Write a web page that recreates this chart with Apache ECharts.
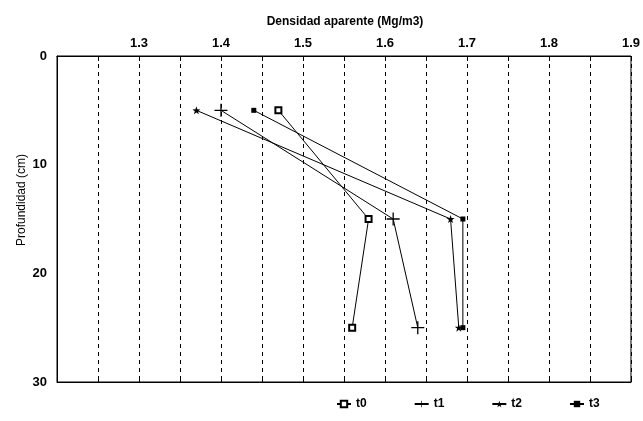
<!DOCTYPE html>
<html><head><meta charset="utf-8">
<script src="https://cdn.jsdelivr.net/npm/echarts@6/dist/echarts.min.js"></script>
<style>html,body{margin:0;padding:0;background:#fff}#c{width:643px;height:421px}</style>
</head><body><div id="c"></div>
<script>
const depths = [5, 15, 25];
const t0 = [1.47, 1.58, 1.56];
const t1 = [1.40, 1.61, 1.64];
const t2 = [1.37, 1.68, 1.69];
const t3 = [1.44, 1.695, 1.695];
const seriesNames = ['t0', 't1', 't2', 't3'];
const yTitle = 'Profundidad (cm)';

const FONT = '"Liberation Sans Narrow","Liberation Sans",Arial,sans-serif';
const plusPath = 'path://M0,4.5h10v1h-10zM4.5,0h1v10h-1z';
const starPath = 'path://M5,0L6.2,3.6L10,3.7L7,6L8.1,9.7L5,7.5L1.9,9.7L3,6L0,3.7L3.8,3.6Z';
const symbols = [
  {symbol: 'emptyRect', size: 6},
  {symbol: plusPath, size: 13},
  {symbol: starPath, size: 8},
  {symbol: 'rect', size: 5}
];
const vals = [t0, t1, t2, t3];

const chart = echarts.init(document.getElementById('c'), null, {renderer: 'canvas'});
chart.setOption({
  animation: false,
  backgroundColor: '#fff',
  title: {
    text: 'Densidad aparente (Mg/m3)', left: 340, top: 11, textAlign: 'center',
    textStyle: {fontFamily: FONT, fontWeight: 'bold', fontSize: 12, color: '#000'}
  },
  graphic: [{
    type: 'text', x: 22, y: 200, rotation: Math.PI / 2,
    style: {text: yTitle, fontFamily: FONT, fontSize: 12, fill: '#000', align: 'center', verticalAlign: 'middle'}
  }],
  grid: {left: 57, top: 56, right: 11, bottom: 39, show: true, borderColor: '#000', borderWidth: 1, backgroundColor: '#fff'},
  legend: {
    bottom: 6, left: 331, itemGap: 47, itemWidth: 14, itemHeight: 8,
    textStyle: {fontFamily: FONT, fontWeight: 'bold', fontSize: 12, color: '#000'},
    data: seriesNames
  },
  xAxis: [{
    type: 'value', position: 'top', min: 1.2, max: 1.9, interval: 0.05,
    axisLine: {show: true, lineStyle: {color: '#000'}},
    axisTick: {show: true, inside: true, length: 5, lineStyle: {color: '#000'}},
    axisLabel: {
      fontFamily: FONT, fontWeight: 'bold', fontSize: 13, color: '#000', margin: 6,
      formatter: function (v) {
        const k = Math.round(v * 100);
        if (k % 10 !== 0 || k === 120) return '';
        return (k / 100).toFixed(1);
      }
    },
    splitLine: {show: true, lineStyle: {color: '#000', type: [4, 4], width: 1}}
  }, {
    type: 'value', position: 'bottom', min: 1.2, max: 1.9, interval: 0.05,
    axisLine: {show: true, lineStyle: {color: '#000'}},
    axisTick: {show: true, inside: true, length: 5, lineStyle: {color: '#000'}},
    axisLabel: {show: false}, splitLine: {show: false}
  }],
  yAxis: {
    type: 'value', inverse: true, min: 0, max: 30, interval: 10,
    axisLine: {show: true, lineStyle: {color: '#000'}},
    axisTick: {show: false},
    axisLabel: {fontFamily: FONT, fontWeight: 'bold', fontSize: 13, color: '#000', margin: 10},
    splitLine: {show: false}
  },
  series: seriesNames.map((n, i) => ({
    name: n, type: 'line', xAxisIndex: 0,
    data: vals[i].map((v, j) => [v, depths[j]]),
    symbol: symbols[i].symbol, symbolSize: symbols[i].size,
    showAllSymbol: true,
    lineStyle: {color: '#000', width: 1},
    itemStyle: {color: '#000', borderColor: '#000', borderWidth: i === 0 ? 1 : 0},
    emphasis: {disabled: true}
  }))
});
</script></body></html>
